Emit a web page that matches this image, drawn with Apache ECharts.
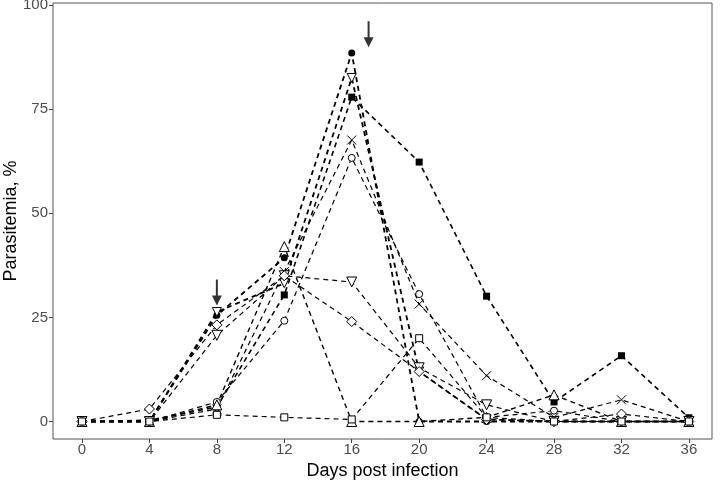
<!DOCTYPE html>
<html>
<head>
<meta charset="utf-8">
<script src="https://cdn.jsdelivr.net/npm/echarts@6/dist/echarts.min.js"></script>
<style>
  html, body { margin: 0; padding: 0; background: #fff; }
  #chart { width: 720px; height: 486px; }
</style>
</head>
<body>
<div id="chart"></div>
<script>
  // days post infection
  const days = [0, 4, 8, 12, 16, 20, 24, 28, 32, 36];
  const xTicks = [0, 4, 8, 12, 16, 20, 24, 28, 32, 36];
  const yTicks = [0, 25, 50, 75, 100];

  // parasitemia, %
  const filledCircle = [0, 0, 25.5, 39.3, 88.5, 0, 0, 0, 0, 0];
  const invTriangleA = [0, 0, 26.3, 33.2, 82.5, 12, 0.5, 0, 0, 0];
  const filledSquare = [0, 0.3, 3.5, 30.4, 77.9, 62.3, 30.1, 4.7, 15.8, 0.9];
  const crossMark = [0, 0, 3, 36, 67.6, 28.2, 11, 1, 5.2, 0];
  const openCircle = [0, 0, 4.7, 24.2, 63.3, 30.6, 1, 2.6, 0, 0];
  const openTriangle = [0, 0, 4, 42, 0, 0, 1, 6.4, 0, 0];
  const invTriangleB = [0, 0, 20.7, 35, 33.5, 12.9, 4, 0, 0, 0];
  const openDiamond = [0, 3, 23.2, 35, 24, 12, 0.5, 0, 1.8, 0];
  const openSquare = [0, 0, 1.6, 1, 0.5, 20, 1, 0, 0, 0];

  // treatment arrows [day, value of arrow centre]
  const arrowPoints = [[8, 31], [17, 93]];

  const pair = vals => days.map((d, i) => [d, vals[i]]);

  const INV_TRI = 'path://M0,0L10,0L5,9Z';
  const CROSS = 'path://M0,0L10,10M10,0L0,10';
  const ARROW = 'path://M4,0L6,0L6,16L10,16L5,26L0,16L4,16Z';

  function makeLine(name, vals, symbol, size, filled, width) {
    return {
      name: name,
      type: 'line',
      data: pair(vals),
      symbol: symbol,
      symbolSize: size,
      showAllSymbol: true,
      lineStyle: { color: '#000', width: width, type: [5, 4] },
      itemStyle: filled
        ? { color: '#000' }
        : { color: symbol === CROSS ? 'rgba(0,0,0,0)' : '#fff', borderColor: '#000', borderWidth: 1 },
      emphasis: { disabled: true },
      z: 3
    };
  }

  let mycharts = echarts.init(document.getElementById('chart'), null, { renderer: 'canvas' });
  mycharts.setOption({
    animation: false,
    backgroundColor: '#fff',
    grid: {
      left: 53, right: 8, top: 3, bottom: 47,
      containLabel: false,
      outerBoundsMode: 'none',
      show: true, borderColor: '#555', borderWidth: 1, backgroundColor: '#fff'
    },
    xAxis: {
      type: 'value',
      min: -1.72,
      max: 37.37,
      name: 'Days post infection',
      nameLocation: 'middle',
      nameGap: 23,
      nameMoveOverlap: false,
      nameTextStyle: { fontSize: 18, color: '#000', fontFamily: 'Liberation Sans' },
      axisLine: { show: false, onZero: false },
      splitLine: { show: false },
      axisTick: { show: true, length: 4, customValues: xTicks, lineStyle: { color: '#444' } },
      axisLabel: { customValues: xTicks, fontSize: 15, color: '#4d4d4d', margin: 3, fontFamily: 'Liberation Sans' }
    },
    yAxis: {
      type: 'value',
      min: -4.2,
      max: 100.5,
      name: 'Parasitemia, %',
      nameLocation: 'middle',
      nameGap: 33,
      nameMoveOverlap: false,
      nameTextStyle: { fontSize: 18, color: '#000', fontFamily: 'Liberation Sans' },
      axisLine: { show: false, onZero: false },
      splitLine: { show: false },
      axisTick: { show: true, length: 4, customValues: yTicks, lineStyle: { color: '#444' } },
      axisLabel: { customValues: yTicks, fontSize: 15, color: '#4d4d4d', margin: 5, fontFamily: 'Liberation Sans' }
    },
    series: [
      makeLine('filledSquare', filledSquare, 'rect', 7, true, 1.6),
      makeLine('filledCircle', filledCircle, 'circle', 7, true, 1.8),
      makeLine('invTriangleA', invTriangleA, INV_TRI, 9, false, 1.8),
      makeLine('crossMark', crossMark, CROSS, 9, false, 1.2),
      makeLine('openCircle', openCircle, 'circle', 7, false, 1.2),
      makeLine('openTriangle', openTriangle, 'triangle', 10, false, 1.4),
      makeLine('invTriangleB', invTriangleB, INV_TRI, 10, false, 1.2),
      makeLine('openDiamond', openDiamond, 'diamond', 10, false, 1.2),
      makeLine('openSquare', openSquare, 'rect', 7, false, 1.2),
      {
        name: 'arrows',
        type: 'scatter',
        data: arrowPoints,
        symbol: ARROW,
        symbolSize: [10, 26],
        itemStyle: { color: '#000' },
        z: 4
      }
    ]
  });
</script>
</body>
</html>
